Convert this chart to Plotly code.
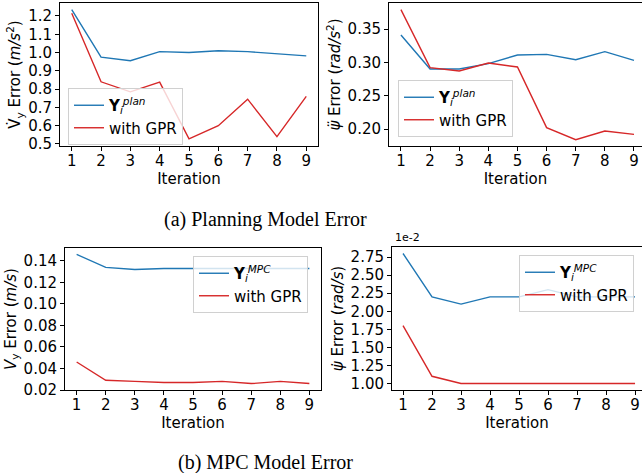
import plotly.graph_objects as go

W, H = 642, 473

iterations = [1, 2, 3, 4, 5, 6, 7, 8, 9]

# (a) Planning model error
vdot_plan = [1.235, 0.975, 0.955, 1.005, 1.0, 1.01, 1.005, 0.993, 0.982]
vdot_gpr = [1.215, 0.84, 0.785, 0.838, 0.528, 0.60, 0.745, 0.54, 0.76]
psidd_plan = [0.341, 0.29, 0.29, 0.298, 0.311, 0.312, 0.304, 0.316, 0.303]
psidd_gpr = [0.379, 0.292, 0.287, 0.299, 0.293, 0.202, 0.184, 0.197, 0.192]

# (b) MPC model error
vy_mpc = [0.146, 0.134, 0.132, 0.133, 0.133, 0.133, 0.133, 0.133, 0.133]
vy_gpr = [0.046, 0.029, 0.028, 0.027, 0.027, 0.028, 0.026, 0.028, 0.026]
# in units of 1e-2
psid_mpc = [2.8, 2.2, 2.1, 2.2, 2.2, 2.3, 2.2, 2.2, 2.2]
psid_gpr = [1.8, 1.1, 1.0, 1.0, 1.0, 1.0, 1.0, 1.0, 1.0]

BLUE = "#1f77b4"
RED = "#d62728"
FONT = "DejaVu Sans"
FS = 15

def px_x(a, b):
    return [a / W, min(b / W, 1.0)]

def px_y(top, bottom):
    return [1 - bottom / H, 1 - top / H]

fig = go.Figure()

panels = [
    ("", (60, 318), (3, 146), [0.6, 9.4], vdot_plan, vdot_gpr,
     "<b>Y</b><sub><i>i</i></sub><sup><i>plan</i></sup>", "legend",
     "V̇<sub>y</sub> Error (<i>m/s</i><sup>2</sup>)",
     [0.5, 0.6, 0.7, 0.8, 0.9, 1.0, 1.1, 1.2], ".1f", [0.489, 1.271]),
    ("2", (389, 642), (3, 146), [0.59, 9.275], psidd_plan, psidd_gpr,
     "<b>Y</b><sub><i>i</i></sub><sup><i>plan</i></sup>", "legend2",
     "<i>ψ̈</i> Error (<i>rad/s</i><sup>2</sup>)",
     [0.20, 0.25, 0.30, 0.35], ".2f", [0.1745, 0.389]),
    ("3", (65, 321), (248, 390), [0.6, 9.4], vy_mpc, vy_gpr,
     "<b>Y</b><sub><i>i</i></sub><sup><i>MPC</i></sup>", "legend3",
     "<i>V</i><sub>y</sub> Error (<i>m/s</i>)",
     [0.02, 0.04, 0.06, 0.08, 0.10, 0.12, 0.14], ".2f", [0.020, 0.152]),
    ("4", (392, 642), (247, 390), [0.62, 9.24], psid_mpc, psid_gpr,
     "<b>Y</b><sub><i>i</i></sub><sup><i>MPC</i></sup>", "legend4",
     "<i>ψ̇</i> Error (<i>rad/s</i>)",
     [1.00, 1.25, 1.50, 1.75, 2.00, 2.25, 2.50, 2.75], ".2f", [0.91, 2.89]),
]

for (ax, xd, yd, xr, plan, gpr, lab, leg, ytitle, yticks, fmt, yr) in panels:
    xa = "x" + ax
    ya = "y" + ax
    fig.add_trace(go.Scatter(x=iterations, y=plan, mode="lines", name=lab,
                             line=dict(color=BLUE, width=1.4),
                             xaxis=xa, yaxis=ya, legend=leg, hoverinfo="skip"))
    fig.add_trace(go.Scatter(x=iterations, y=gpr, mode="lines", name="with GPR",
                             line=dict(color=RED, width=1.4),
                             xaxis=xa, yaxis=ya, legend=leg, hoverinfo="skip"))
    axis_common = dict(showline=True, linecolor="black", linewidth=1, mirror=True,
                       ticks="outside", ticklen=4, tickcolor="black", showgrid=False,
                       zeroline=False, automargin=False,
                       tickfont=dict(family=FONT, size=FS, color="black"))
    fig.update_layout(**{
        "xaxis" + ax: dict(domain=px_x(*xd), range=xr, anchor=ya,
                           tickvals=iterations, ticklabelstandoff=-3,
                           title=dict(text="Iteration", font=dict(family=FONT, size=FS, color="black"),
                                      standoff=0),
                           **axis_common),
        "yaxis" + ax: dict(domain=px_y(*yd), range=yr, anchor=xa, tickvals=yticks,
                           tickformat=fmt,
                           title=dict(text=ytitle, font=dict(family=FONT, size=FS, color="black"),
                                      standoff=3),
                           **axis_common),
    })

legend_style = dict(bgcolor="rgba(255,255,255,0.8)", bordercolor="#d0d0d0", borderwidth=1,
                    font=dict(family=FONT, size=FS, color="black"),
                    xanchor="left", yanchor="top", tracegroupgap=0)
fig.update_layout(
    legend=dict(x=68 / W, y=1 - 88 / H, **legend_style),
    legend2=dict(x=398 / W, y=1 - 80 / H, **legend_style),
    legend3=dict(x=193 / W, y=1 - 256 / H, **legend_style),
    legend4=dict(x=519 / W, y=1 - 255 / H, **legend_style),
)

fig.add_annotation(text="1e-2", x=393 / W, y=1 - 246 / H, xref="paper", yref="paper",
                   xanchor="left", yanchor="bottom", showarrow=False,
                   font=dict(family=FONT, size=11, color="black"))
fig.add_annotation(text="(a) Planning Model Error", x=265 / W, y=1 - 219 / H, xref="paper", yref="paper",
                   xanchor="center", yanchor="middle", showarrow=False,
                   font=dict(family="Liberation Serif", size=20, color="black"))
fig.add_annotation(text="(b) MPC Model Error", x=265 / W, y=1 - 462 / H, xref="paper", yref="paper",
                   xanchor="center", yanchor="middle", showarrow=False,
                   font=dict(family="Liberation Serif", size=20, color="black"))

fig.update_layout(width=W, height=H, margin=dict(l=0, r=0, t=0, b=0, autoexpand=False),
                  plot_bgcolor="white", paper_bgcolor="white", showlegend=True,
                  hovermode=False)

fig.write_html("out.html", config={"displayModeBar": False},
               post_script="document.body.style.margin='0';document.body.style.overflow='hidden';")
